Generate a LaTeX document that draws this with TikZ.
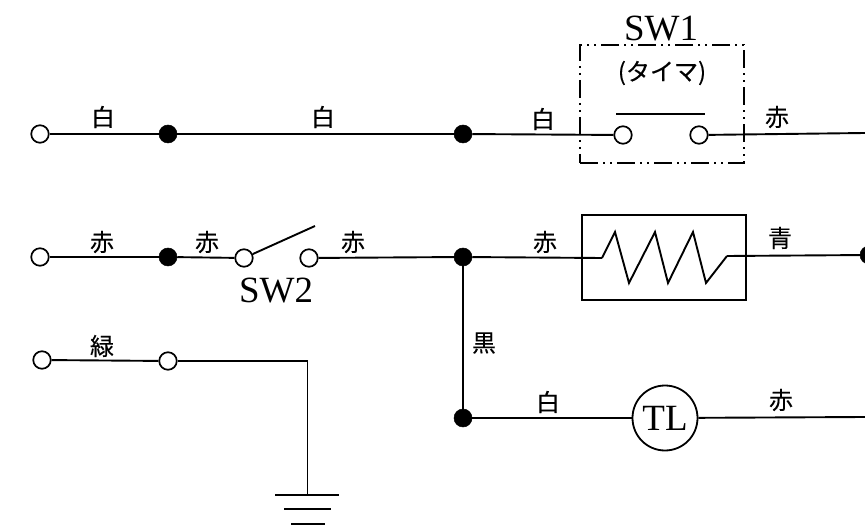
\documentclass[tikz,border=0pt]{standalone}
\usepackage{fontspec}
\setmainfont{Liberation Serif}
\newfontfamily\cjk[FakeBold=0.3]{Noto Sans CJK JP}
\tikzset{
  openpt/.style={circle,draw=black,fill=white,line width=1.7pt,minimum size=17.5pt,inner sep=0pt},
  solidpt/.style={circle,draw=black,fill=black,line width=0.5pt,minimum size=18pt,inner sep=0pt},
  wire/.style={line width=1.9pt,black},
  lbl/.style={font=\cjk\fontsize{24}{24}\selectfont,inner sep=0pt},
  sw/.style={font=\fontsize{37}{37}\selectfont,inner sep=0pt},
  timerbox/.style={draw=black,line width=1.6pt,dash pattern=on 18pt off 5pt on 2pt off 5pt on 2pt off 5pt,minimum width=164pt,minimum height=118pt,inner sep=0pt},
  heater/.style={draw=black,line width=2.2pt,minimum width=164pt,minimum height=85pt,inner sep=0pt},
}
\begin{document}
\begin{tikzpicture}[x=1pt,y=-1pt]
\useasboundingbox (0,0) rectangle (865,529);
% enclosures
\node[timerbox] (swbox) at (662,104) {};
\node[heater] (hbox) at (664,257.5) {};
% row 1
\node[openpt] (a1) at (40,134) {};
\node[solidpt] (a2) at (168,134) {};
\node[solidpt] (a3) at (463,134) {};
\node[openpt] (a4) at (623,135) {};
\node[openpt] (a5) at (699,135) {};
\coordinate (a6) at (865,133);
\draw[wire] (a1) -- (a2);
\draw[wire] (a2) -- (a3);
\draw[wire] (a3) -- (a4);
\draw[wire] (a5) -- (a6);
\coordinate (barL) at (616,114);
\coordinate (barR) at (705,114);
\draw[wire] (barL) -- (barR);
% row 2
\node[openpt] (b1) at (40,257) {};
\node[solidpt] (b2) at (168,257) {};
\node[openpt] (b3) at (244,258) {};
\node[openpt] (b4) at (309,258) {};
\node[solidpt] (b5) at (463,257) {};
\node[solidpt] (b6) at (869,255) {};
\coordinate (armEnd) at (315,226);
\coordinate (z0) at (602,258);
\coordinate (z7) at (727,256);
\draw[wire] (b1) -- (b2);
\draw[wire] (b2) -- (b3);
\draw[wire] (b4) -- (b5);
\draw[wire] (b5) -- (z0);
\draw[wire] (b3) -- (armEnd);
\draw[wire,line join=miter] (z0) -- (615,232) -- (629,283) -- (655,232) -- (668,283) -- (693,232) -- (706,283) -- (z7);
\draw[wire] (z7) -- (b6);
% row 3
\node[openpt] (c1) at (42,360) {};
\node[openpt] (c2) at (168,361) {};
\coordinate (gnd) at (307.5,495);
\draw[wire] (c1) -- (c2);
\draw[wire] (c2) -| (gnd);
\coordinate (g1L) at (275,495);
\coordinate (g1R) at (339,495);
\coordinate (g2L) at (284,509);
\coordinate (g2R) at (331,509);
\coordinate (g3L) at (291,524);
\coordinate (g3R) at (325,524);
\draw[wire] (g1L) -- (g1R);
\draw[wire] (g2L) -- (g2R);
\draw[wire] (g3L) -- (g3R);
% row 4
\node[solidpt] (d1) at (463,418) {};
\node[circle,draw=black,fill=white,line width=1.8pt,minimum size=65pt,inner sep=0pt,font=\fontsize{37}{37}\selectfont] (tl) at (665,418) {TL};
\coordinate (d2) at (865,417);
\draw[wire] (b5) -- (d1);
\draw[wire] (d1) -- (tl);
\draw[wire] (tl) -- (d2);
% labels
\node[sw] (sw1) at (661,29) {SW1};
\node[sw] (sw2) at (276,291) {SW2};
\node[lbl] (tm) at (662,73) {(タイマ)};
\node[lbl] (l1) at (103,117) {白};
\node[lbl] (l2) at (323,117) {白};
\node[lbl] (l3) at (543,119) {白};
\node[lbl] (l4) at (777,117) {赤};
\node[lbl] (l5) at (102,242) {赤};
\node[lbl] (l6) at (207,242) {赤};
\node[lbl] (l7) at (353,242) {赤};
\node[lbl] (l8) at (545,242) {赤};
\node[lbl] (l9) at (780,238) {青};
\node[lbl] (l10) at (102,346) {緑};
\node[lbl] (l11) at (484,343) {黒};
\node[lbl] (l12) at (548,402) {白};
\node[lbl] (l13) at (781,400) {赤};
\end{tikzpicture}
\end{document}
